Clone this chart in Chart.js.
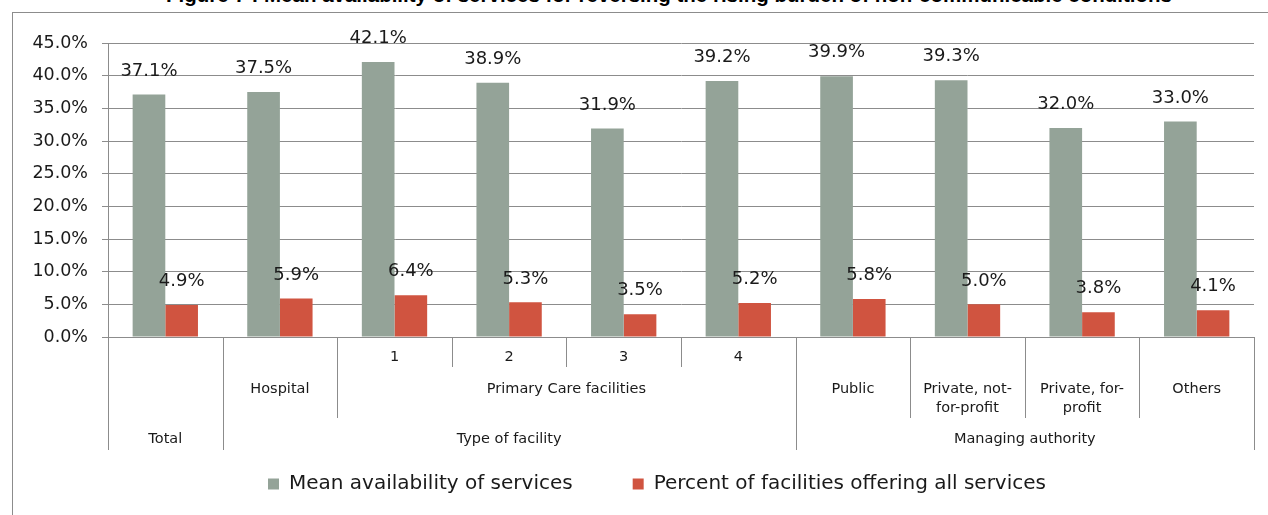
<!DOCTYPE html>
<html>
<head>
<meta charset="utf-8">
<script src="https://cdn.jsdelivr.net/npm/chart.js@4"></script>
<style>
  html, body { margin: 0; padding: 0; background: #fff; overflow: hidden; }
  #wrap { position: relative; width: 1268px; height: 515px; overflow: hidden; }
  #frame { position: absolute; left: 12px; top: 12px; width: 1300px; height: 600px; border: 1px solid #8c8c8c; }
  #title {
    position: absolute; left: 0; width: 1338px; top: -17px; text-align: center;
    font: bold 20.5px "Liberation Sans", Arial, sans-serif; color: #000; white-space: nowrap;
  }
  canvas { position: absolute; left: 0; top: 0; }
</style>
</head>
<body>
<div id="wrap">
  <div id="frame"></div>
  <div id="title">Figure 7 : Mean availability of services for reversing the rising burden of non-communicable conditions</div>
  <canvas id="chart" width="1268" height="515"></canvas>
</div>
<script>
// ---- data ----
const level1 = ['', '', '1', '2', '3', '4', '', '', '', ''];
const level2 = [[''], ['Hospital'], ['Primary Care facilities'], ['Public'], ['Private, not-', 'for-profit'], ['Private, for-', 'profit'], ['Others']];
const level2Span = [1, 1, 4, 1, 1, 1, 1];
const level3 = ['Total', 'Type of facility', 'Managing authority'];
const level3Span = [1, 5, 4];

const seriesNames = ['Mean availability of services', 'Percent of facilities offering all services'];
const meanAvailability = [37.1, 37.5, 42.1, 38.9, 31.9, 39.2, 39.9, 39.3, 32.0, 33.0];
const pctAllServices   = [4.9, 5.9, 6.4, 5.3, 3.5, 5.2, 5.8, 5.0, 3.8, 4.1];

const FONT = '"DejaVu Sans", sans-serif';
const LINE = '#8c8c8c';

// boundaries between groups -> how deep the separator goes
function boundarySet(spans) {
  const s = new Set();
  let acc = 0;
  spans.forEach(n => { acc += n; s.add(acc); });
  return s;
}

// draws value labels above bars
const valueLabels = {
  id: 'valueLabels',
  afterDatasetsDraw(chart) {
    const ctx = chart.ctx;
    ctx.save();
    ctx.font = '18px ' + FONT;
    ctx.fillStyle = '#1a1a1a';
    ctx.textAlign = 'center';
    ctx.textBaseline = 'middle';
    chart.data.datasets.forEach((ds, di) => {
      chart.getDatasetMeta(di).data.forEach((bar, i) => {
        ctx.fillText(ds.data[i].toFixed(1) + '%', bar.x, bar.y - 23.5);
      });
    });
    ctx.restore();
  }
};

// multi-level category axis
const groupAxis = {
  id: 'groupAxis',
  afterLayout(chart) {
    // legend sits a bit right of the full-width centre, like the original
    if (chart.legend) chart.legend.left = 60;
  },
  afterDraw(chart) {
    const ctx = chart.ctx;
    const x = chart.scales.x;
    const base = chart.chartArea.bottom;
    const n = level1.length;
    const edge = i => {
      if (i <= 0) return chart.chartArea.left;
      if (i >= n) return chart.chartArea.right;
      return (x.getPixelForValue(i - 1) + x.getPixelForValue(i)) / 2;
    };
    const b2 = boundarySet(level2Span);
    const b3 = boundarySet(level3Span);

    ctx.save();
    ctx.strokeStyle = LINE;
    ctx.lineWidth = 1;
    for (let i = 0; i <= n; i++) {
      let depth = 30;
      if (i === 0 || i === n || b3.has(i)) depth = 113;
      else if (b2.has(i)) depth = 81;
      const px = Math.round(edge(i)) + 0.5;
      ctx.beginPath();
      ctx.moveTo(px, base);
      ctx.lineTo(px, base + depth);
      ctx.stroke();
    }

    ctx.fillStyle = '#1a1a1a';
    ctx.font = '14.5px ' + FONT;
    ctx.textAlign = 'center';
    ctx.textBaseline = 'middle';
    level1.forEach((t, i) => {
      if (t) ctx.fillText(t, x.getPixelForValue(i), base + 20);
    });
    let start = 0;
    level2.forEach((lines, g) => {
      const cx = (edge(start) + edge(start + level2Span[g])) / 2;
      lines.forEach((t, k) => ctx.fillText(t, cx, base + 52 + k * 19));
      start += level2Span[g];
    });
    start = 0;
    level3.forEach((t, g) => {
      const cx = (edge(start) + edge(start + level3Span[g])) / 2;
      ctx.fillText(t, cx, base + 102);
      start += level3Span[g];
    });
    ctx.restore();
  }
};

new Chart(document.getElementById('chart'), {
  type: 'bar',
  data: {
    labels: level1,
    datasets: [
      { label: seriesNames[0], data: meanAvailability, backgroundColor: '#94a398' },
      { label: seriesNames[1], data: pctAllServices, backgroundColor: '#d05440' }
    ]
  },
  options: {
    responsive: false,
    devicePixelRatio: 1,
    animation: false,
    datasets: { bar: { categoryPercentage: 0.57, barPercentage: 1 } },
    layout: { padding: { top: 43, left: 0, right: 14, bottom: 11 } },
    plugins: {
      legend: {
        position: 'bottom',
        labels: { boxWidth: 11, boxHeight: 11, padding: 60, color: '#1a1a1a', font: { family: FONT, size: 20 } }
      },
      title: { display: false },
      tooltip: { enabled: false }
    },
    scales: {
      x: {
        offset: true,
        grid: { display: false },
        border: { color: LINE },
        ticks: { display: false },
        afterFit: s => { s.height = 77; }
      },
      y: {
        min: 0, max: 45,
        ticks: { stepSize: 5, padding: 14, color: '#1a1a1a', font: { family: FONT, size: 17.5 }, callback: v => v.toFixed(1) + '%' },
        grid: { color: LINE, tickLength: 6 },
        border: { color: LINE },
        afterFit: s => { s.width = 108; }
      }
    }
  },
  plugins: [valueLabels, groupAxis]
});
</script>
</body>
</html>
